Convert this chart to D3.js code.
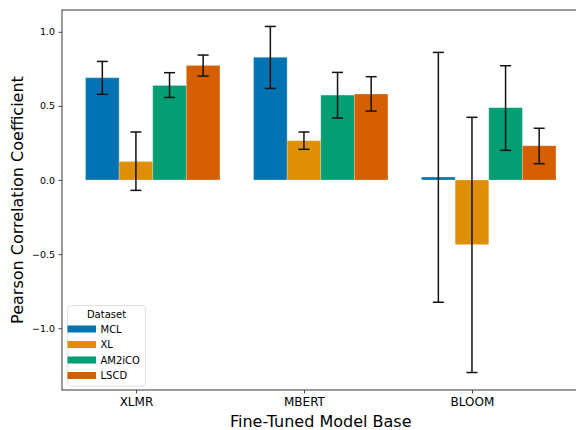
<!DOCTYPE html>
<html>
<head>
<meta charset="utf-8">
<style>
  body { margin: 0; overflow: hidden; background: white; }
  text { font-family: "DejaVu Sans", sans-serif; fill: #000; }
</style>
<script src="https://cdn.jsdelivr.net/npm/d3@7"></script>
</head>
<body>
<svg id="chart"></svg>
<script>
// values
var models = ["XLMR", "MBERT", "BLOOM"];
var datasets = ["MCL", "XL", "AM2iCO", "LSCD"];
var colors = ["#0173b2", "#de8f05", "#029e73", "#d55e00"];

var meanMCL = [0.690, 0.828, 0.020];
var meanXL = [0.125, 0.265, -0.436];
var meanAM2iCO = [0.638, 0.573, 0.488];
var meanLSCD = [0.773, 0.580, 0.231];

var lowMCL = [0.578, 0.618, -0.825];
var lowXL = [-0.070, 0.207, -1.299];
var lowAM2iCO = [0.557, 0.418, 0.200];
var lowLSCD = [0.701, 0.465, 0.110];

var highMCL = [0.800, 1.036, 0.861];
var highXL = [0.324, 0.324, 0.423];
var highAM2iCO = [0.724, 0.726, 0.771];
var highLSCD = [0.843, 0.697, 0.349];

var yTicks = [-1.0, -0.5, 0.0, 0.5, 1.0];

var means = [meanMCL, meanXL, meanAM2iCO, meanLSCD],
    lows = [lowMCL, lowXL, lowAM2iCO, lowLSCD],
    highs = [highMCL, highXL, highAM2iCO, highLSCD];

var rows = [];
datasets.forEach(function(ds, i) {
  models.forEach(function(m, j) {
    rows.push({model: j, hue: i, mean: means[i][j], lo: lows[i][j], hi: highs[i][j]});
  });
});

var width = 576, height = 430;
var plotLeft = 62, plotRight = 579.5, plotTop = 10, plotBottom = 390;
var barW = 0.2;

var svg = d3.select("#chart")
    .attr("width", width)
    .attr("height", height);

var x = d3.scaleLinear().domain([-0.44, 2.64]).range([plotLeft, plotRight]);
var y = d3.scaleLinear().domain([-1.417, 1.147]).range([plotBottom, plotTop]);

// bars
svg.append("g").selectAll("rect")
    .data(rows)
  .enter().append("rect")
    .attr("x", function(d) { return x(d.model - 0.3 + barW * d.hue); })
    .attr("width", function(d) { return x(barW) - x(0); })
    .attr("y", function(d) { return y(Math.max(0, d.mean)); })
    .attr("height", function(d) { return Math.abs(y(d.mean) - y(0)); })
    .style("fill", function(d) { return colors[d.hue]; })
    .style("stroke", "white")
    .style("stroke-opacity", 0.3)
    .style("stroke-width", 0.8);

// error bars
var cap = 5.5;
var err = svg.append("g").selectAll("g")
    .data(rows)
  .enter().append("g")
    .attr("transform", function(d) { return "translate(" + x(d.model - 0.2 + barW * d.hue) + ",0)"; })
    .style("stroke", "#111")
    .style("stroke-width", 1.5);

err.append("line")
    .attr("y1", function(d) { return y(d.lo); })
    .attr("y2", function(d) { return y(d.hi); });
err.append("line")
    .attr("x1", -cap).attr("x2", cap)
    .attr("y1", function(d) { return y(d.lo); })
    .attr("y2", function(d) { return y(d.lo); });
err.append("line")
    .attr("x1", -cap).attr("x2", cap)
    .attr("y1", function(d) { return y(d.hi); })
    .attr("y2", function(d) { return y(d.hi); });

// axes
var xAxis = svg.append("g")
    .attr("transform", "translate(0," + plotBottom + ")")
    .call(d3.axisBottom(x).tickValues([0, 1, 2]).tickFormat(function(d) { return models[d]; })
      .tickSize(3.5).tickPadding(4));
xAxis.selectAll("text").style("font-size", "12px");

var yAxis = svg.append("g")
    .attr("transform", "translate(" + plotLeft + ",0)")
    .call(d3.axisLeft(y).tickValues(yTicks).tickFormat(d3.format(".1f"))
      .tickSize(3.5).tickPadding(3.5));
yAxis.selectAll("text").style("font-size", "9.5px");

svg.selectAll(".domain").remove();
svg.selectAll(".tick line").style("stroke", "#222").style("stroke-width", 0.8);

// spines
svg.append("rect")
    .attr("x", plotLeft)
    .attr("y", plotTop)
    .attr("width", plotRight - plotLeft)
    .attr("height", plotBottom - plotTop)
    .style("fill", "none")
    .style("stroke", "#222")
    .style("stroke-width", 0.9);

// axis labels
svg.append("text")
    .attr("x", (plotLeft + plotRight) / 2)
    .attr("y", 427)
    .attr("text-anchor", "middle")
    .style("font-size", "16px")
    .text("Fine-Tuned Model Base");

svg.append("text")
    .attr("transform", "translate(23," + ((plotTop + plotBottom) / 2) + ") rotate(-90)")
    .attr("text-anchor", "middle")
    .style("font-size", "16px")
    .text("Pearson Correlation Coefficient");

// legend
var legend = svg.append("g").attr("transform", "translate(67.5,305.5)");
legend.append("rect")
    .attr("width", 78)
    .attr("height", 80.5)
    .attr("rx", 3)
    .style("fill", "white")
    .style("fill-opacity", 0.8)
    .style("stroke", "#d9d9d9")
    .style("stroke-width", 0.8);
legend.append("text")
    .attr("x", 39)
    .attr("y", 12.5)
    .attr("text-anchor", "middle")
    .style("font-size", "10px")
    .text("Dataset");

var items = legend.selectAll(".item")
    .data(datasets)
  .enter().append("g")
    .attr("class", "item")
    .attr("transform", function(d, i) { return "translate(0," + (23.5 + i * 15.5) + ")"; });
items.append("rect")
    .attr("x", 0)
    .attr("y", -3.5)
    .attr("width", 28.5)
    .attr("height", 7)
    .style("fill", function(d, i) { return colors[i]; });
items.append("text")
    .attr("x", 33)
    .attr("y", 3.7)
    .style("font-size", "10px")
    .text(function(d) { return d; });
</script>
</body>
</html>
